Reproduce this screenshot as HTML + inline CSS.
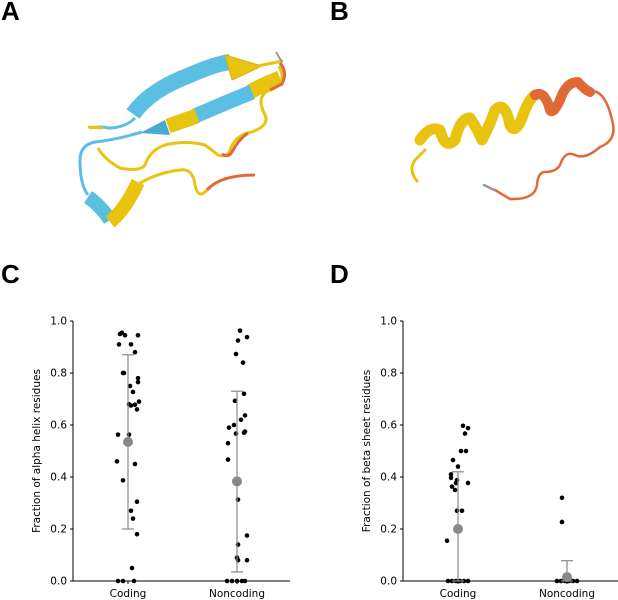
<!DOCTYPE html>
<html><head><meta charset="utf-8">
<style>
body{margin:0;background:#fff;}
svg{display:block;font-family:"DejaVu Sans","Liberation Sans",sans-serif;}
.lbl{font-family:"Liberation Sans",sans-serif;font-weight:bold;font-size:26px;}
.tk{font-size:10.5px;fill:#000;}
</style></head>
<body>
<svg id="fig" width="618" height="600" viewBox="0 0 618 600">
<text class="lbl" x="1" y="20">A</text>
<text class="lbl" x="330" y="20">B</text>
<text class="lbl" x="1" y="283">C</text>
<text class="lbl" x="330" y="283">D</text>

<g fill="none" stroke-linecap="butt" stroke-linejoin="round">
  <path d="M90,128 Q100,126 108,128 Q125,128 135,118" stroke="#5bbfe3" stroke-width="3"/>
  <path d="M88,127 L103,128" stroke="#e8c411" stroke-width="3"/>
  <path d="M133,114 Q150,90 190,75 Q215,64 230,62" stroke="#5bbfe3" stroke-width="16"/>
  <path d="M225,55 L262,66 L232,80 Z" fill="#e8c411" stroke="#d6b20c" stroke-width="1"/>
  <path d="M258,66 Q272,63 283,61" stroke="#e8c411" stroke-width="3"/>
  <path d="M276,52 L282,62" stroke="#999" stroke-width="2"/>
  <path d="M280,78 Q262,85 250,92" stroke="#e8c411" stroke-width="15"/>
  <path d="M252,92 Q225,103 195,116" stroke="#5bbfe3" stroke-width="15"/>
  <path d="M197,116 Q180,122 168,126" stroke="#e8c411" stroke-width="15"/>
  <path d="M165,120 L140,133 L170,135 Z" fill="#4aa9cc"/>
  <path d="M142,132 Q115,140 95,142 Q80,145 80,160 Q80,185 88,195" stroke="#5bbfe3" stroke-width="3"/>
  <path d="M279,66 Q288,84 270,90 Q255,96 265,115 Q270,125 252,132 Q235,135 230,150 Q228,158 218,155 Q212,150 205,145 Q185,140 165,145 Q150,150 145,165 Q140,172 120,168 Q105,160 98,148" stroke="#e8c411" stroke-width="3"/>
  <path d="M280,63 Q288,72 282,84 L270,90" stroke="#e06a35" stroke-width="3"/>
  <path d="M248,133 Q238,140 232,152 Q228,158 222,154" stroke="#e06a35" stroke-width="3"/>
  <path d="M88,197 Q100,205 110,220" stroke="#5bbfe3" stroke-width="14"/>
  <path d="M110,222 Q125,210 138,182" stroke="#e8c411" stroke-width="14"/>
  <path d="M140,183 Q160,172 180,170 Q193,168 195,185 Q198,200 207,190" stroke="#e8c411" stroke-width="3"/>
  <path d="M207,190 Q220,175 255,175" stroke="#e06a35" stroke-width="3"/>
</g>

<g fill="none" stroke-linecap="round" stroke-linejoin="round">
  <path d="M417,181 Q408,170 415,160 Q420,155 425,150" stroke="#e8c411" stroke-width="3"/>
  <path d="M420,140 Q430,125 440,130 Q445,150 455,140 Q460,118 470,118 Q478,130 482,140 Q490,125 495,110 Q505,100 510,125 Q515,135 522,118 Q528,100 535,95" stroke="#e8c411" stroke-width="11"/>
  <path d="M535,95 Q545,90 550,110 Q553,115 560,100 Q566,82 578,82 Q585,90 590,92" stroke="#e06a35" stroke-width="10"/>
  <path d="M588,91 Q605,88 612,120 Q618,140 600,147 Q585,160 575,155 Q565,150 560,165 Q556,172 545,172 Q538,172 537,185 Q535,200 510,199 L495,190" stroke="#e06a35" stroke-width="2.5"/>
  <path d="M494,190 L484,185" stroke="#999" stroke-width="2.5"/>
</g>

<g id="chartC"></g>
<g id="chartD"></g>
</svg>
<script>
// ---- data ----
const categories = ["Coding", "Noncoding"];
const ticks = [0.0, 0.2, 0.4, 0.6, 0.8, 1.0];
const helixCodingVals = [0.95,0.955,0.945,0.945,0.91,0.91,0.88,0.80,0.80,0.78,0.765,0.75,0.727,0.68,0.675,0.678,0.69,0.66,0.563,0.563,0.46,0.45,0.387,0.305,0.27,0.24,0.18,0.05,0,0,0];
const helixCodingJit = [-8,-6,-3,10,-9,3,7,-4,-5,10,10,2,5,1,3,7,11,9,-10,1,-11,7,-5,9,3,5,9,4,-10,-5,6];
const helixNonVals = [0.963,0.925,0.938,0.873,0.84,0.693,0.72,0.59,0.60,0.637,0.62,0.53,0.567,0.57,0.575,0.467,0.313,0.175,0.14,0.09,0.08,0.08,0,0,0,0,0];
const helixNonJit = [3,1,10,-1,6,-2,7,-8,-3,8,4,-9,-1,7,8,-9,1,10,1,0,1,10,-10,-5,0,5,8];
const helixMean = [0.535, 0.383];
const helixLow = [0.20, 0.035];
const helixHigh = [0.87, 0.73];
const betaCodingVals = [0.597,0.588,0.567,0.50,0.50,0.465,0.44,0.41,0.397,0.388,0.377,0.377,0.363,0.35,0.27,0.27,0.155,0,0,0,0,0,0];
const betaCodingJit = [5,10,7,3,8,-5,0,-7,-7,-1,-2,10,-6,-3,-1,4,-11,-10,-6,-2,2,6,10];
const betaNonVals = [0.32,0.227,0,0,0,0,0,0];
const betaNonJit = [-5,-5,-10,-6,-2,2,6,10];
const betaMean = [0.20, 0.015];
const betaLow = [0, 0];
const betaHigh = [0.42, 0.078];

const NS = "http://www.w3.org/2000/svg";
function mk(parent, tag, attrs){const e=document.createElementNS(NS,tag);for(const k in attrs)e.setAttribute(k,attrs[k]);parent.appendChild(e);return e;}

function drawChart(g, ax, title, pts, means, lows, highs){
  const y0=581, y1=321, xEnd=ax+217;
  const ys = v => y0 - v*(y0-y1);
  const xs = i => ax + 55 + i*109;
  const yl = mk(g,"line",{x1:ax,y1:y0,x2:ax,y2:y1,stroke:"#000","stroke-width":1});
  
  
  const xl = mk(g,"line",{x1:ax,y1:y0,x2:xEnd,y2:y0,stroke:"#000","stroke-width":1});
  
  
  ticks.forEach(t=>{
    mk(g,"line",{x1:ax-3,y1:ys(t),x2:ax,y2:ys(t),stroke:"#000"});
    const tx=mk(g,"text",{x:ax-6,y:ys(t)+3.5,"text-anchor":"end",class:"tk"});
    tx.textContent=t.toFixed(1);
    
    
  });
  categories.forEach((c,i)=>{
    mk(g,"line",{x1:xs(i),y1:y0,x2:xs(i),y2:y0+3,stroke:"#000"});
    const tx=mk(g,"text",{x:xs(i),y:y0+16,"text-anchor":"middle",class:"tk"});
    tx.textContent=c;
    
    
  });
  const ttl=mk(g,"text",{x:0,y:0,transform:`translate(${ax-33},${(y0+y1)/2}) rotate(-90)`,"text-anchor":"middle",class:"tk"});
  ttl.textContent=title;
  
  
  pts.forEach((p,i)=>{
    p.vals.forEach((v,j)=>{
      const c=mk(g,"circle",{cx:xs(i)+p.jit[j],cy:ys(v),r:2.3,fill:"#000"});
      
      
    });
  });
  means.forEach((m,i)=>{
    const eb=mk(g,"g",{stroke:"#888","stroke-width":1.2});
    
    
    mk(eb,"line",{x1:xs(i),y1:ys(lows[i]),x2:xs(i),y2:ys(highs[i])});
    mk(eb,"line",{x1:xs(i)-6,y1:ys(highs[i]),x2:xs(i)+6,y2:ys(highs[i])});
    mk(eb,"line",{x1:xs(i)-6,y1:ys(lows[i]),x2:xs(i)+6,y2:ys(lows[i])});
    const c=mk(g,"circle",{cx:xs(i),cy:ys(m),r:5,fill:"#888"});
    
    
  });
}
drawChart(document.getElementById("chartC"),73,"Fraction of alpha helix residues",
  [{vals:helixCodingVals,jit:helixCodingJit},{vals:helixNonVals,jit:helixNonJit}],helixMean,helixLow,helixHigh);
drawChart(document.getElementById("chartD"),403,"Fraction of beta sheet residues",
  [{vals:betaCodingVals,jit:betaCodingJit},{vals:betaNonVals,jit:betaNonJit}],betaMean,betaLow,betaHigh);
</script>
</body></html>
